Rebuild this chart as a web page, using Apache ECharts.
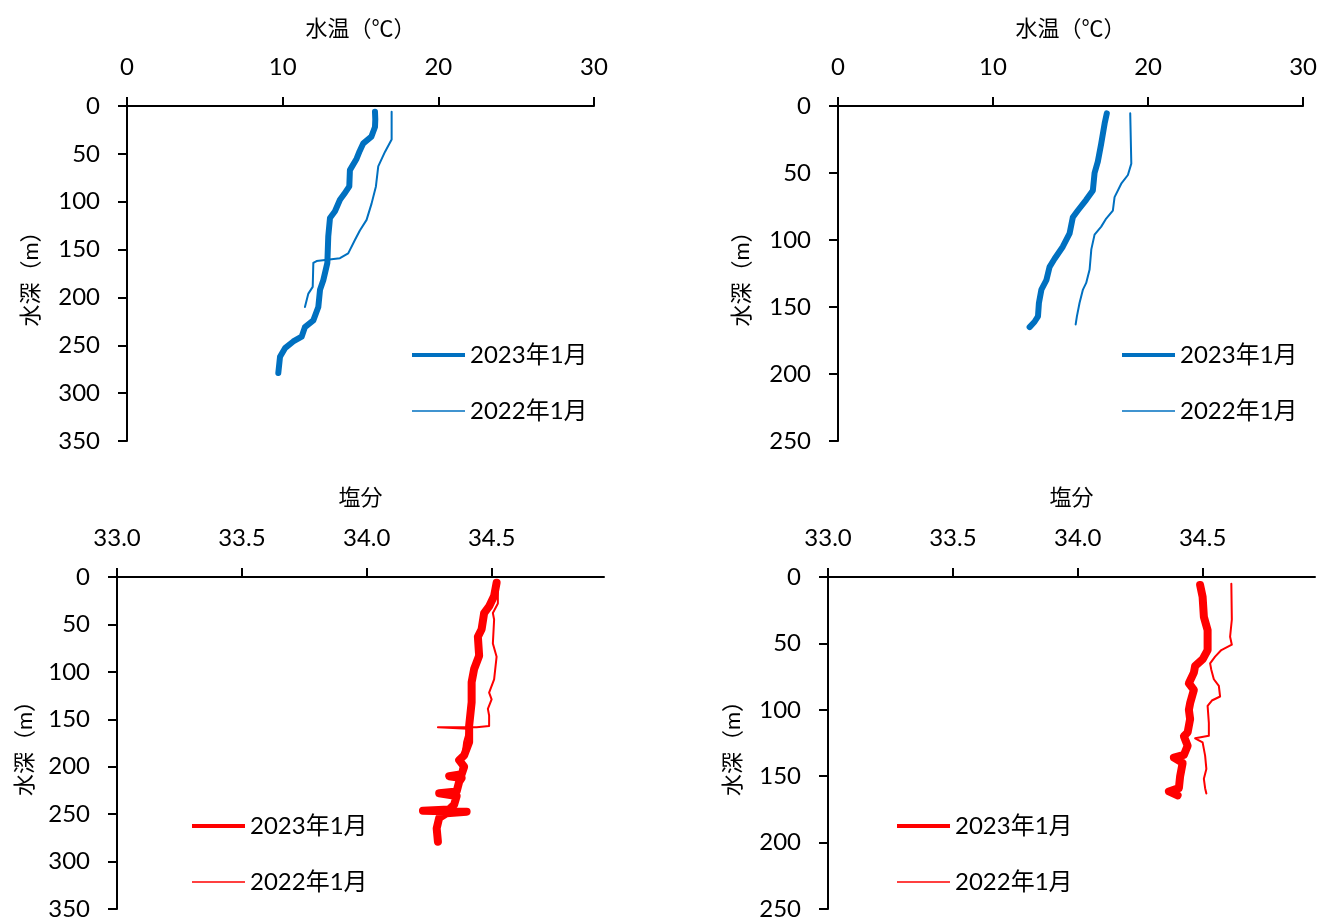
<!DOCTYPE html>
<html><head><meta charset="utf-8">
<script src="https://cdn.jsdelivr.net/npm/echarts@6/dist/echarts.min.js"></script>
<style>html,body{margin:0;padding:0;background:#fff;}#c{width:1320px;height:921px;}</style>
</head><body><div id="c"></div>
<script>
// ---- Data: [value, depth(m)] ----
const labels = ['2023年1月', '2022年1月'];
const xTempTicks = [0, 10, 20, 30];
const xSalTicks = [33.0, 33.5, 34.0, 34.5];

// Top-left: 水温
const tempA2023 = [[15.93,6],[15.95,14],[15.93,22],[15.7,32],[15.18,39],[14.95,47],[14.75,55],[14.32,67],[14.28,84],[13.95,92],[13.68,98],[13.36,110],[13.04,117],[12.93,136],[12.87,164],[12.61,182],[12.4,192],[12.29,210],[11.97,224],[11.43,231],[11.22,241],[10.68,246],[10.15,253],[9.83,262],[9.72,279]];
const tempA2022 = [[17.0,6],[17.0,35],[16.57,48],[16.14,63],[15.99,84],[15.71,102],[15.39,119],[14.96,130],[14.64,140],[14.21,154],[13.68,159],[12.18,162],[11.97,164],[11.93,189],[11.65,196],[11.43,210]];
// Top-right: 水温
const tempB2023 = [[17.34,5.5],[17.2,13],[16.98,28],[16.76,41.5],[16.55,50],[16.44,63],[16.01,70],[15.47,78],[15.15,83],[14.94,95],[14.5,105],[13.97,114],[13.65,120],[13.44,130],[13.12,137],[12.96,147],[12.9,157],[12.68,161],[12.36,165]];
const tempB2022 = [[18.85,5.5],[18.92,43],[18.7,51.5],[18.27,58],[17.84,68],[17.73,78],[17.3,84],[16.98,90],[16.55,96],[16.34,107],[16.23,122],[16.01,132],[15.8,137],[15.58,147],[15.41,157],[15.33,163]];
// Bottom-left: 塩分
const salA2023 = [[34.52,6],[34.51,20],[34.49,31],[34.47,38],[34.46,55],[34.445,63],[34.45,83],[34.43,97],[34.42,111],[34.42,132],[34.41,157],[34.41,174],[34.39,188],[34.37,193],[34.39,200],[34.38,208],[34.33,210],[34.38,212],[34.37,216],[34.36,226],[34.29,228],[34.36,231],[34.35,240],[34.33,245],[34.225,246.5],[34.40,247.5],[34.32,249],[34.29,254],[34.28,265],[34.285,279]];
const salA2022 = [[34.525,6],[34.525,28],[34.505,38],[34.51,45],[34.505,70],[34.52,84],[34.51,108],[34.49,122],[34.50,129],[34.485,139],[34.49,146],[34.49,157],[34.44,158.5],[34.285,158.5],[34.405,160],[34.39,174],[34.38,195],[34.37,210]];
// Bottom-right: 塩分
const salB2023 = [[34.49,6],[34.50,15],[34.505,30],[34.52,40],[34.52,55],[34.50,62],[34.47,67],[34.465,72],[34.445,80],[34.465,85],[34.45,95],[34.445,100],[34.45,107],[34.44,117],[34.425,120],[34.44,127],[34.425,134],[34.385,136],[34.42,140],[34.41,150],[34.405,159],[34.365,161.5],[34.40,164.5]];
const salB2022 = [[34.615,5],[34.617,32],[34.61,45],[34.617,51],[34.575,55],[34.55,60],[34.53,65],[34.535,70],[34.545,77],[34.565,82],[34.57,90],[34.537,93],[34.52,97],[34.525,110],[34.525,119.5],[34.47,121.5],[34.50,124.5],[34.51,134.5],[34.515,144.5],[34.505,152],[34.51,159],[34.515,163]];

const FONT = 'Lato, "Noto Sans CJK JP", sans-serif';
const BLUE = '#0070C0', RED = '#FF0000';

const grids = [
  {left:127, top:106, width:467, height:335},
  {left:838, top:106, width:466, height:335},
  {left:117, top:577, width:487, height:333},
  {left:828, top:577, width:487, height:333}
];
const axisLineStyle = {show:true, lineStyle:{color:'#000', width:2}};
const tickStyle = {show:true, length:9, inside:false, lineStyle:{color:'#000', width:2}};
const labelStyle = (m) => ({color:'#000', fontSize:24, fontFamily:FONT, margin:m});
const nameStyle = {color:'#000', fontSize:22, fontFamily:FONT};

function xAxis(i, isTemp, gap){
  return {
    type:'value', gridIndex:i, position:'top',
    min: isTemp ? 0 : 33.0, max: isTemp ? 30 : 34.95, interval: isTemp ? 10 : 0.5,
    name: isTemp ? '水温（℃）' : '塩分', nameLocation:'middle', nameGap:gap, nameTextStyle:nameStyle,
    axisLine:axisLineStyle, axisTick:tickStyle, splitLine:{show:false},
    axisLabel: Object.assign(labelStyle(27), {showMaxLabel: isTemp, formatter: v => isTemp ? String(v) : v.toFixed(1)})
  };
}
function yAxis(i, max, gap){
  return {
    type:'value', gridIndex:i, inverse:true, min:0, max:max, interval:50,
    name:'水深（m）', nameLocation:'middle', nameGap:gap, nameRotate:90, nameTextStyle:nameStyle,
    axisLine:axisLineStyle, axisTick:tickStyle, splitLine:{show:false},
    axisLabel: labelStyle(27)
  };
}
function line(id, label, idx, data, color, width){
  return {
    type:'line', name: id + '|' + label, xAxisIndex:idx, yAxisIndex:idx, data:data,
    showSymbol:false, symbol:'none', smooth:false, animation:false,
    lineStyle:{color:color, width:width, cap:'round', join:'round'}, itemStyle:{color:color}
  };
}
function legend(id, left, top, color){
  return {
    orient:'vertical', left:left, top:top, padding:0, itemWidth:53, itemHeight:14, itemGap:32,
    data:[
      {name:id+'|'+labels[0], itemStyle:{color:color}, icon:'path://M0,5 L53,5 L53,9 L0,9 Z'},
      {name:id+'|'+labels[1], itemStyle:{color:color}, icon:'path://M0,6.3 L53,6.3 L53,7.7 L0,7.7 Z'}
    ],
    formatter: n => n.split('|')[1],
    textStyle:{color:'#000', fontSize:24, fontFamily:FONT},
    selectedMode:false
  };
}

const chart = echarts.init(document.getElementById('c'), null, {renderer:'canvas'});
chart.setOption({
  backgroundColor:'#fff',
  animation:false,
  grid: grids,
  xAxis: [xAxis(0,true,66), xAxis(1,true,66), xAxis(2,false,68), xAxis(3,false,68)],
  yAxis: [yAxis(0,350,85), yAxis(1,250,85), yAxis(2,350,81), yAxis(3,250,84)],
  legend: [legend('a', 412, 343, BLUE), legend('b', 1122, 343, BLUE), legend('c', 192, 814, RED), legend('d', 897, 814, RED)],
  series: [
    line('a', labels[1], 0, tempA2022, BLUE, 2),
    line('a', labels[0], 0, tempA2023, BLUE, 6),
    line('b', labels[1], 1, tempB2022, BLUE, 2),
    line('b', labels[0], 1, tempB2023, BLUE, 6),
    line('c', labels[1], 2, salA2022, RED, 2),
    line('c', labels[0], 2, salA2023, RED, 8),
    line('d', labels[1], 3, salB2022, RED, 2),
    line('d', labels[0], 3, salB2023, RED, 8)
  ]
});
</script></body></html>
